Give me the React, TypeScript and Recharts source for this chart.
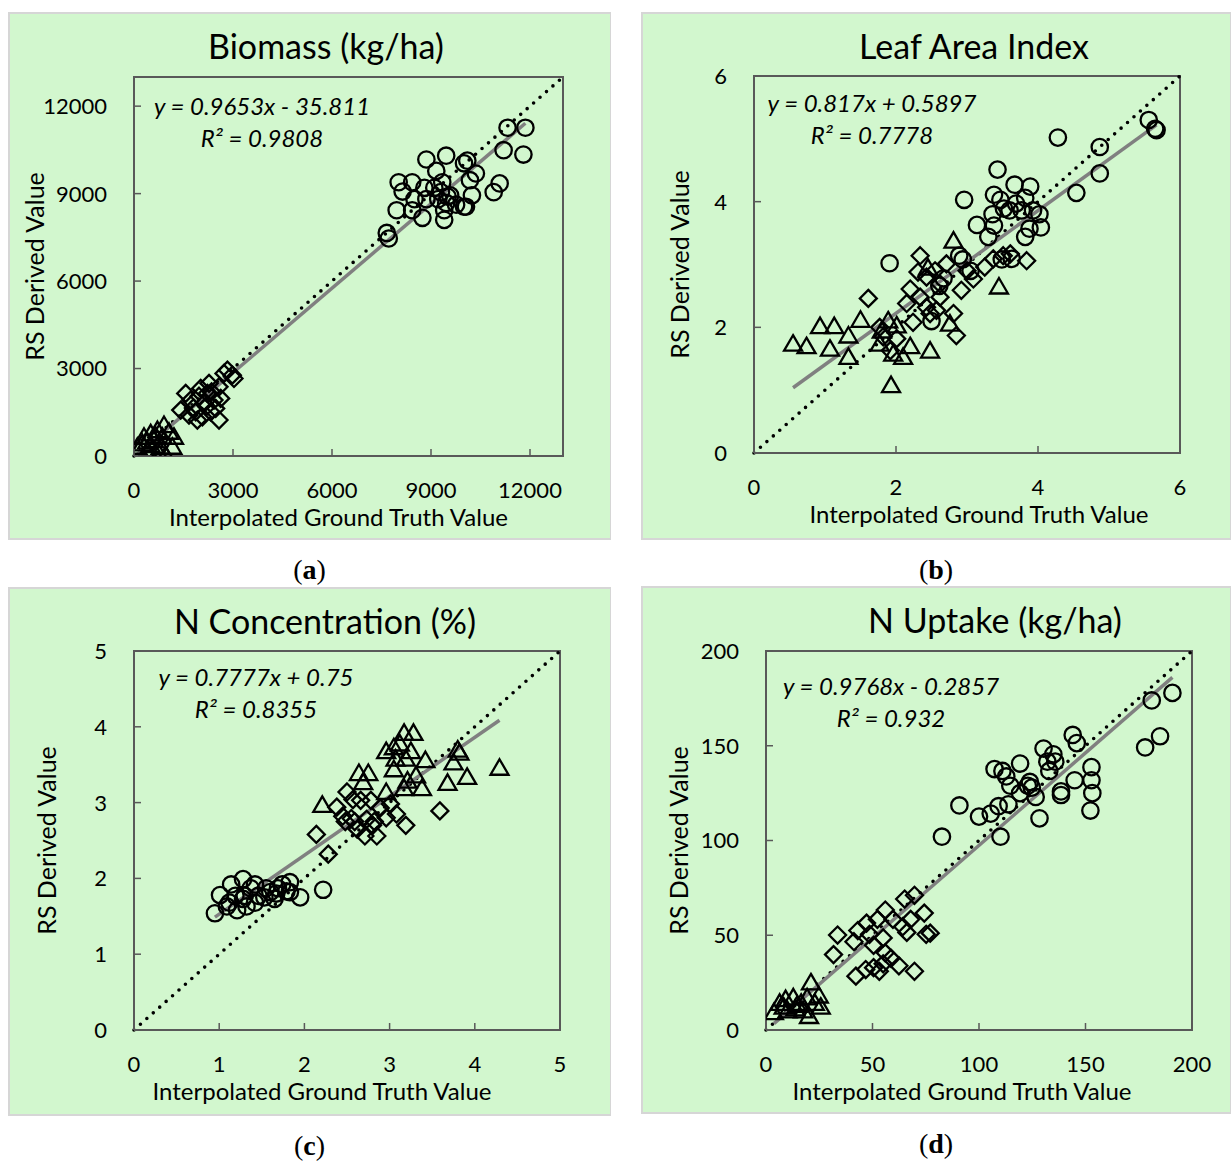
import React from "react";
import {
  ScatterChart,
  Scatter,
  XAxis,
  YAxis,
  ReferenceLine,
  ReferenceArea,
  Label,
} from "recharts";

type Pt = [number, number];

// ---- Biomass (kg/ha) ----
const biomassCircles: Pt[] = [
  [11320, 11260], [11860, 11260], [11200, 10490], [11800, 10340], [8860, 10170],
  [9460, 10300], [10000, 10040], [10100, 10130], [9160, 9780], [10360, 9690],
  [8020, 9390], [8430, 9390], [8140, 9070], [8800, 9200], [9100, 9200],
  [9340, 9390], [10180, 9460], [11080, 9350], [10900, 9050], [10240, 8940],
  [9580, 8940], [8500, 8810], [8860, 8810], [9220, 8810], [9460, 8680],
  [9760, 8620], [10000, 8550], [7960, 8430], [8430, 8430], [9400, 8430],
  [8740, 8170], [9400, 8100], [10060, 8550], [7660, 7650], [7720, 7460],
  [9300, 9050], [9500, 8900],
];
const biomassDiamonds: Pt[] = [
  [2830, 2945], [2980, 2774], [3030, 2660], [2727, 2832], [2273, 2490],
  [2020, 2318], [1566, 2147], [1415, 1575], [1870, 1517], [2121, 1805],
  [2424, 1918], [2627, 1976], [2576, 1233], [1920, 1233], [1667, 1404],
  [2324, 1517], [2224, 2147], [2576, 2373], [1718, 1918], [2475, 1633],
  [2073, 1346], [1970, 2050], [2200, 1700], [1800, 1650], [2350, 2200],
];
const biomassTriangles: Pt[] = [
  [103, 318], [303, 661], [506, 777], [709, 890], [909, 1062], [1060, 832],
  [1212, 661], [1163, 318], [809, 318], [506, 377], [758, 92], [960, 34],
  [606, 548], [255, 435], [860, 661], [406, 205], [650, 700], [400, 500],
];

// ---- Leaf Area Index ----
const laiCircles: Pt[] = [
  [5.56, 5.3], [5.65, 5.16], [5.67, 5.14], [4.28, 5.02], [4.87, 4.87], [4.87, 4.45],
  [4.54, 4.14], [3.43, 4.51], [2.96, 4.03], [3.38, 4.11], [3.47, 4.03], [3.67, 4.27],
  [3.89, 4.24], [3.82, 4.06], [3.69, 3.97], [3.6, 3.86], [3.77, 3.86], [3.93, 3.86],
  [4.02, 3.8], [4.04, 3.59], [3.88, 3.57], [3.82, 3.44], [3.14, 3.63], [3.3, 3.44],
  [3.38, 3.62], [1.91, 3.02], [2.5, 2.1], [3.49, 3.08], [3.63, 3.09], [3.36, 3.8],
  [3.52, 3.89], [2.94, 3.08], [3.05, 2.9], [2.89, 3.14], [2.61, 2.66], [2.67, 2.78],
];
const laiDiamonds: Pt[] = [
  [1.61, 2.46], [2.34, 3.14], [2.2, 2.61], [2.31, 2.88], [2.43, 2.8], [2.55, 2.9],
  [2.62, 2.69], [2.81, 2.22], [2.85, 1.87], [2.15, 2.38], [2.43, 2.32], [2.62, 2.48],
  [3.09, 2.77], [3.25, 2.96], [3.51, 3.14], [3.84, 3.06], [2.92, 2.59], [1.77, 2.0],
  [1.82, 1.85], [2.01, 1.82], [2.24, 2.08], [2.48, 2.22], [1.92, 1.63], [2.71, 3.01],
  [3.0, 2.9], [3.37, 3.09], [3.61, 3.17], [2.34, 2.48], [2.57, 2.27],
];
const laiTriangles: Pt[] = [
  [0.55, 1.74], [0.74, 1.7], [0.93, 2.02], [1.13, 2.02], [1.07, 1.66], [1.33, 1.87],
  [1.33, 1.53], [1.5, 2.12], [2.81, 3.38], [3.45, 2.65], [2.48, 1.63], [2.2, 1.7],
  [1.93, 1.08], [2.1, 1.53], [1.89, 2.11], [1.77, 1.74], [2.01, 2.03], [1.8, 1.95],
  [2.76, 2.06], [1.96, 1.58], [2.45, 2.95],
];

// ---- N Concentration (%) ----
const ncCircles: Pt[] = [
  [0.95, 1.54], [1.01, 1.78], [1.14, 1.92], [1.28, 1.99], [1.21, 1.58], [1.37, 1.87],
  [1.46, 1.77], [1.6, 1.82], [1.74, 1.92], [1.83, 1.95], [1.95, 1.75], [2.22, 1.85],
  [1.83, 1.82], [1.65, 1.73], [1.55, 1.87], [1.42, 1.68], [1.32, 1.63], [1.12, 1.68],
  [1.19, 1.77], [1.3, 1.77], [1.42, 1.92], [1.69, 1.87], [1.09, 1.63], [1.28, 1.73],
  [1.53, 1.75], [1.67, 1.8], [1.79, 1.83],
];
const ncDiamonds: Pt[] = [
  [2.14, 2.58], [2.28, 2.32], [2.38, 2.94], [2.45, 2.82], [2.5, 3.14], [2.57, 3.04],
  [2.62, 2.65], [2.71, 2.56], [2.8, 2.7], [2.85, 2.56], [2.96, 2.8], [3.08, 2.85],
  [3.19, 2.7], [3.59, 2.89], [2.55, 2.79], [2.66, 3.03], [2.78, 3.03], [2.89, 2.93],
  [3.01, 2.98], [2.59, 2.75], [2.82, 2.75], [2.48, 2.75], [2.73, 2.78],
];
const ncTriangles: Pt[] = [
  [2.21, 2.97], [2.64, 3.39], [2.75, 3.39], [2.69, 3.27], [2.96, 3.68], [3.05, 3.73],
  [3.17, 3.92], [3.28, 3.92], [3.07, 3.58], [3.19, 3.58], [3.25, 3.68], [3.42, 3.56],
  [3.05, 3.44], [3.21, 3.29], [3.38, 3.19], [3.31, 3.36], [3.68, 3.26], [3.75, 3.53],
  [3.8, 3.7], [3.82, 3.66], [3.91, 3.34], [4.29, 3.46], [2.96, 3.14], [3.12, 3.78],
  [3.17, 3.19],
];

// ---- N Uptake (kg/ha) ----
const nuCircles: Pt[] = [
  [190.8, 177.9], [181.1, 173.9], [178.0, 149.1], [185.0, 155.0], [144.0, 155.7],
  [145.9, 151.4], [130.3, 148.5], [119.3, 140.6], [107.3, 137.7], [111.0, 136.7],
  [112.8, 133.8], [114.7, 128.9], [123.9, 130.9], [124.8, 127.9], [126.6, 123.0],
  [119.3, 125.0], [134.9, 145.5], [135.8, 141.6], [133.0, 136.7], [138.5, 125.9],
  [144.9, 131.8], [152.8, 138.7], [152.8, 131.8], [153.2, 125.0], [152.3, 115.8],
  [128.4, 111.7], [90.8, 118.5], [100.0, 112.6], [105.5, 114.2], [109.2, 118.1],
  [110.1, 102.0], [82.6, 102.0], [113.8, 119.1], [138.5, 124.0], [122.9, 128.9],
  [132.1, 141.6],
];
const nuDiamonds: Pt[] = [
  [33.6, 50.1], [31.7, 39.8], [42.2, 28.4], [43.1, 52.5], [41.3, 46.6], [47.2, 56.4],
  [48.6, 50.5], [50.5, 44.7], [50.5, 32.9], [53.2, 31.0], [55.0, 34.9], [56.0, 40.7],
  [56.0, 63.3], [52.3, 58.4], [59.6, 58.4], [62.4, 33.9], [69.7, 31.0], [64.2, 54.5],
  [67.9, 58.4], [74.3, 61.7], [75.2, 50.5], [77.1, 51.1], [65.1, 69.1], [69.7, 71.1],
  [55.0, 48.6], [58.7, 37.8], [66.1, 51.5], [46.8, 31.9],
];
const nuTriangles: Pt[] = [
  [3.7, 9.4], [6.4, 14.3], [9.2, 16.3], [12.8, 17.2], [16.5, 14.3], [21.1, 25.1],
  [24.8, 18.2], [25.7, 12.3], [20.2, 7.4], [17.4, 10.4], [13.8, 11.4], [10.1, 10.4],
  [22.9, 14.3], [19.3, 17.2], [14.7, 13.3], [8.3, 12.3],
];

const biomassTicks = [0, 3000, 6000, 9000, 12000];
const laiTicks = [0, 2, 4, 6];
const ncTicks = [0, 1, 2, 3, 4, 5];
const nuTicks = [0, 50, 100, 150, 200];

const FONT = "Lato, 'Open Sans', sans-serif";
const AXIS = "#595959";
const Y_AXIS_W = 60;
const X_AXIS_H = 30;
const TICK_GAP = 26;

const toXY = (pts: Pt[]) => pts.map(([x, y]) => ({ x, y }));

const CircleMark = (p: any) => (
  <circle cx={p.cx} cy={p.cy} r={8.2} fill="none" stroke="#000" strokeWidth={2.3} />
);
const DiamondMark = (p: any) => (
  <polygon
    points={`${p.cx},${p.cy - 8.5} ${p.cx + 8.5},${p.cy} ${p.cx},${p.cy + 8.5} ${p.cx - 8.5},${p.cy}`}
    fill="none"
    stroke="#000"
    strokeWidth={2.3}
  />
);
const TriangleMark = (p: any) => (
  <polygon
    points={`${p.cx},${p.cy - 8.5} ${p.cx + 9},${p.cy + 7} ${p.cx - 9},${p.cy + 7}`}
    fill="none"
    stroke="#000"
    strokeWidth={2.3}
  />
);

interface PanelProps {
  box: { left: number; top: number; w: number; h: number };
  plot: { left: number; top: number; right: number; bottom: number };
  max: number;
  ticks: number[];
  circles: Pt[];
  diamonds: Pt[];
  triangles: Pt[];
  slope: number;
  intercept: number;
  title: string;
  titleX: number;
  eq: string;
  r2: string;
  eqX: number;
  eqY: number;
  xLabelDx: number;
  yLabelOffset: number;
  caption: string;
}

function Panel(props: PanelProps) {
  const { box, plot, max, ticks } = props;
  const all = [...props.circles, ...props.diamonds, ...props.triangles];
  const xs = all.map((p) => p[0]);
  const xMin = Math.min(...xs);
  const xMax = Math.max(...xs);
  const trend = [
    { x: xMin, y: props.slope * xMin + props.intercept },
    { x: xMax, y: props.slope * xMax + props.intercept },
  ];
  const margin = {
    left: plot.left - box.left - Y_AXIS_W,
    top: plot.top - box.top,
    right: box.left + box.w - plot.right,
    bottom: box.top + box.h - plot.bottom - X_AXIS_H,
  };
  const localBottom = plot.bottom - box.top;
  const localLeft = plot.left - box.left;

  const XTick = (t: any) => (
    <g>
      <line x1={t.x} x2={t.x} y1={localBottom} y2={localBottom - 7} stroke={AXIS} strokeWidth={1.5} />
      <text x={t.x} y={localBottom + TICK_GAP} dy="0.72em" textAnchor="middle" fill="#000" fontSize={22} fontFamily={FONT}>
        {t.payload.value}
      </text>
    </g>
  );
  const YTick = (t: any) => (
    <g>
      <line x1={localLeft} x2={localLeft + 7} y1={t.y} y2={t.y} stroke={AXIS} strokeWidth={1.5} />
      <text x={localLeft - 27} y={t.y} dy="0.36em" textAnchor="end" fill="#000" fontSize={22} fontFamily={FONT}>
        {t.payload.value}
      </text>
    </g>
  );

  return (
    <>
      <div
        style={{
          position: "absolute",
          left: box.left,
          top: box.top,
          width: box.w,
          height: box.h,
          background: "#D2F7CE",
          boxShadow: "inset 2px 2px 0 #d6d6d6, inset -1px -2px 0 #d6d6d6",
        }}
      >
        <ScatterChart width={box.w} height={box.h} margin={margin}>
          <XAxis
            type="number"
            dataKey="x"
            domain={[0, max]}
            ticks={ticks}
            interval={0}
            height={X_AXIS_H}
            allowDataOverflow
            tick={XTick}
            tickLine={false}
            axisLine={{ stroke: AXIS, strokeWidth: 2 }}
          >
            <Label
              value="Interpolated Ground Truth Value"
              position="bottom"
              offset={53 - X_AXIS_H}
              dx={props.xLabelDx}
              style={{ fontSize: 24, fill: "#000", fontFamily: FONT }}
            />
          </XAxis>
          <YAxis
            type="number"
            dataKey="y"
            domain={[0, max]}
            ticks={ticks}
            interval={0}
            width={Y_AXIS_W}
            allowDataOverflow
            tick={YTick}
            tickLine={false}
            axisLine={{ stroke: AXIS, strokeWidth: 2 }}
          >
            <Label
              value="RS Derived Value"
              angle={-90}
              position="left"
              offset={props.yLabelOffset - Y_AXIS_W}
              style={{ fontSize: 25, fill: "#000", fontFamily: FONT, textAnchor: "middle" }}
            />
          </YAxis>
          <ReferenceArea
            x1={0}
            x2={max}
            y1={0}
            y2={max}
            fill="none"
            fillOpacity={0}
            stroke={AXIS}
            strokeWidth={2}
          />
          <Scatter data={toXY(props.triangles)} shape={TriangleMark} isAnimationActive={false} />
          <Scatter data={toXY(props.diamonds)} shape={DiamondMark} isAnimationActive={false} />
          <Scatter data={toXY(props.circles)} shape={CircleMark} isAnimationActive={false} />
          <ReferenceLine
            segment={[
              { x: 0, y: 0 },
              { x: max, y: max },
            ]}
            stroke="#000"
            strokeWidth={3.6}
            strokeDasharray="0 8.6"
            strokeLinecap="round"
          />
          <ReferenceLine segment={trend} stroke="#808080" strokeWidth={3.5} />
        </ScatterChart>
      </div>
      <div
        style={{
          position: "absolute",
          left: props.titleX - 250,
          top: box.top + 14,
          width: 500,
          textAlign: "center",
          fontFamily: FONT,
          fontSize: 34,
          lineHeight: "40px",
          color: "#000",
        }}
      >
        {props.title}
      </div>
      <div
        style={{
          position: "absolute",
          left: props.eqX - 150,
          top: props.eqY,
          width: 300,
          textAlign: "center",
          fontFamily: FONT,
          fontStyle: "italic",
          fontSize: 24,
          lineHeight: "32px",
          color: "#000",
        }}
      >
        <div>{props.eq}</div>
        <div>{props.r2}</div>
      </div>
      <div
        style={{
          position: "absolute",
          left: box.left + box.w / 2 - 100,
          top: box.top + box.h + 14,
          width: 200,
          textAlign: "center",
          fontFamily: "'Liberation Serif', 'Times New Roman', serif",
          fontSize: 28,
          lineHeight: "32px",
          color: "#000",
        }}
      >
        (<b>{props.caption}</b>)
      </div>
    </>
  );
}

export default function App() {
  return (
    <div
      style={{
        position: "absolute",
        left: 0,
        top: 0,
        width: 1231,
        height: 1162,
        background: "#fff",
        overflow: "hidden",
      }}
    >
      <Panel
        box={{ left: 8, top: 12, w: 603, h: 528 }}
        plot={{ left: 134, top: 77, right: 563, bottom: 456 }}
        max={13000}
        ticks={biomassTicks}
        circles={biomassCircles}
        diamonds={biomassDiamonds}
        triangles={biomassTriangles}
        slope={0.9653}
        intercept={-35.811}
        title="Biomass (kg/ha)"
        titleX={326}
        eq="y = 0.9653x - 35.811"
        r2="R² = 0.9808"
        eqX={262}
        eqY={90}
        xLabelDx={-10}
        yLabelOffset={99}
        caption="a"
      />
      <Panel
        box={{ left: 641, top: 12, w: 590, h: 528 }}
        plot={{ left: 754, top: 76, right: 1180, bottom: 453 }}
        max={6}
        ticks={laiTicks}
        circles={laiCircles}
        diamonds={laiDiamonds}
        triangles={laiTriangles}
        slope={0.817}
        intercept={0.5897}
        title="Leaf Area Index"
        titleX={974}
        eq="y = 0.817x + 0.5897"
        r2="R² = 0.7778"
        eqX={872}
        eqY={87}
        xLabelDx={12}
        yLabelOffset={74}
        caption="b"
      />
      <Panel
        box={{ left: 8, top: 587, w: 603, h: 529 }}
        plot={{ left: 134, top: 651, right: 560, bottom: 1030 }}
        max={5}
        ticks={ncTicks}
        circles={ncCircles}
        diamonds={ncDiamonds}
        triangles={ncTriangles}
        slope={0.7777}
        intercept={0.75}
        title="N Concentration (%)"
        titleX={325}
        eq="y = 0.7777x + 0.75"
        r2="R² = 0.8355"
        eqX={256}
        eqY={661}
        xLabelDx={-25}
        yLabelOffset={87}
        caption="c"
      />
      <Panel
        box={{ left: 641, top: 586, w: 590, h: 528 }}
        plot={{ left: 766, top: 651, right: 1192, bottom: 1030 }}
        max={200}
        ticks={nuTicks}
        circles={nuCircles}
        diamonds={nuDiamonds}
        triangles={nuTriangles}
        slope={0.9768}
        intercept={-0.2857}
        title="N Uptake (kg/ha)"
        titleX={995}
        eq="y = 0.9768x - 0.2857"
        r2="R² = 0.932"
        eqX={891}
        eqY={670}
        xLabelDx={-17}
        yLabelOffset={87}
        caption="d"
      />
    </div>
  );
}
